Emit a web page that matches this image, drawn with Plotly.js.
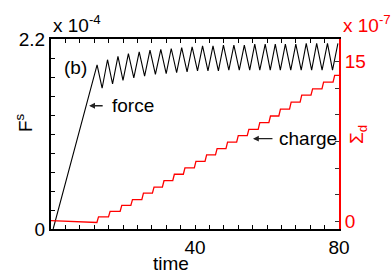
<!DOCTYPE html>
<html>
<head>
<meta charset="utf-8">
<script src="https://cdn.plot.ly/plotly-3.0.1.min.js"></script>
<style>html,body{margin:0;padding:0;background:#fff;}#chart{width:392px;height:273px;}</style>
</head>
<body>
<div id="chart"></div>
<script>
// ---- data (time units; force in 1e-4, charge in 1e-7) ----
const forceStart = [0.6, 0];
const forcePeakTimes = [12.8, 15.7, 18.6, 21.5, 24.5, 27.5, 30.5, 33.4, 36.3, 39.2, 42.1, 45.0,
                        47.9, 50.8, 53.7, 56.6, 59.5, 62.3, 65.1, 68.0, 70.9, 73.8, 76.8, 79.7];
const forcePeaks = [1.90, 1.96, 2.00, 2.03, 2.05, 2.07, 2.08, 2.09, 2.10, 2.11, 2.12, 2.12,
                    2.13, 2.13, 2.13, 2.14, 2.14, 2.14, 2.14, 2.14, 2.15, 2.15, 2.15, 2.15];
const forceMinTimes = [14.2, 17.1, 20.0, 23.0, 26.0, 29.0, 32.0, 34.9, 37.8, 40.7, 43.6, 46.5,
                       49.4, 52.3, 55.2, 58.0, 60.9, 63.7, 66.6, 69.5, 72.4, 75.3, 78.2];
const forceMins = [1.63, 1.68, 1.72, 1.75, 1.77, 1.79, 1.80, 1.81, 1.82, 1.83, 1.83, 1.83,
                   1.84, 1.84, 1.84, 1.84, 1.84, 1.84, 1.84, 1.84, 1.84, 1.84, 1.84];

const chargeStart = [0, 0.07];
const chargeStepTimes = [12.75, 15.97, 19.21, 22.18, 25.23, 28.17, 30.94, 33.82, 36.76, 39.81, 42.78, 45.69,
                         48.60, 51.57, 54.51, 57.55, 60.52, 63.29, 66.26, 69.20, 72.22, 75.27, 78.35];
const chargeLevels = [-0.10, 0.42, 0.95, 1.50, 2.05, 2.65, 3.22, 3.82, 4.43, 5.02, 5.63, 6.24,
                      6.84, 7.44, 8.05, 8.65, 9.27, 9.90, 10.55, 11.20, 11.85, 12.45, 13.08, 13.71];
const chargeEndTime = 80;

const xTickVals = [40, 80];
const xTickText = ['40', '80'];
const yTickVals = [0, 2.2];
const yTickText = ['0', '2.2'];
const y2TickVals = [0, 15];
const y2TickText = ['0', '15'];

// ---- build traces ----
const fx = [forceStart[0]], fy = [forceStart[1]];
for (let i = 0; i < forcePeakTimes.length; i++) {
  fx.push(forcePeakTimes[i]); fy.push(forcePeaks[i]);
  if (i < forceMinTimes.length) { fx.push(forceMinTimes[i]); fy.push(forceMins[i]); }
}
const riseDur = 0.45;
const cx = [chargeStart[0]], cy = [chargeStart[1]];
for (let k = 0; k < chargeStepTimes.length; k++) {
  cx.push(chargeStepTimes[k]); cy.push(chargeLevels[k]);
  cx.push(chargeStepTimes[k] + riseDur); cy.push(chargeLevels[k + 1]);
}
cx.push(chargeEndTime); cy.push(chargeLevels[chargeLevels.length - 1]);

const FONT = 'Liberation Sans, Arial, sans-serif';
const traces = [
  {x: fx, y: fy, type: 'scatter', mode: 'lines', line: {color: '#000', width: 1.1}, yaxis: 'y', hoverinfo: 'skip'},
  {x: cx, y: cy, type: 'scatter', mode: 'lines', line: {color: '#ff0000', width: 1.3}, yaxis: 'y2', hoverinfo: 'skip'}
];

function px2paperX(p) { return (p - 51) / 288; }
function px2paperY(p) { return (229 - p) / 190; }

const layout = {
  width: 392, height: 273,
  margin: {l: 51, r: 53, t: 39, b: 44, pad: 0},
  paper_bgcolor: '#fff', plot_bgcolor: '#fff',
  showlegend: false,
  font: {family: FONT, size: 19, color: '#000'},
  xaxis: {
    range: [0, 80], tickmode: 'array', tickvals: xTickVals, ticktext: xTickText,
    ticks: 'inside', ticklen: 4, tickwidth: 1, tickcolor: '#000',
    minor: {tick0: 0, dtick: 4, ticks: 'inside', ticklen: 4, tickwidth: 1, tickcolor: '#000', showgrid: false},
    showline: true, linecolor: '#000', linewidth: 2, mirror: 'ticks',
    showgrid: false, zeroline: false, tickfont: {size: 19, family: FONT}
  },
  yaxis: {
    range: [0, 2.2], tickmode: 'array', tickvals: yTickVals, ticktext: yTickText,
    ticks: 'inside', ticklen: 4, tickwidth: 1, tickcolor: '#000',
    minor: {tick0: 0, dtick: 0.22, ticks: 'inside', ticklen: 4, tickwidth: 1, tickcolor: '#000', showgrid: false},
    showline: true, linecolor: '#000', linewidth: 2,
    showgrid: false, zeroline: false, tickfont: {size: 19, family: FONT}
  },
  yaxis2: {
    overlaying: 'y', side: 'right',
    range: [-0.714, 17.13], tickmode: 'array', tickvals: y2TickVals, ticktext: y2TickText,
    ticks: 'inside', ticklen: 4, tickwidth: 1, tickcolor: '#333',
    minor: {tick0: 0, dtick: 2.5, ticks: 'inside', ticklen: 4, tickwidth: 1, tickcolor: '#333', showgrid: false},
    showline: true, linecolor: '#ff0000', linewidth: 2,
    showgrid: false, zeroline: false, tickfont: {size: 19, family: FONT, color: '#ff0000'}
  },
  annotations: [
    {text: 'x 10<sup>-4</sup>', xref: 'paper', yref: 'paper', x: px2paperX(51), y: px2paperY(38),
     xanchor: 'left', yanchor: 'bottom', showarrow: false, font: {size: 19, family: FONT}},
    {text: 'x 10<sup>-7</sup>', xref: 'paper', yref: 'paper', x: px2paperX(341), y: px2paperY(38),
     xanchor: 'left', yanchor: 'bottom', showarrow: false, font: {size: 19, family: FONT, color: '#ff0000'}},
    {text: 'F<sup>s</sup>', xref: 'paper', yref: 'paper', x: px2paperX(24), y: px2paperY(123),
     xanchor: 'center', yanchor: 'middle', textangle: -90, showarrow: false, font: {size: 19, family: FONT}},
    {text: 'Σ<sub>d</sub>', xref: 'paper', yref: 'paper', x: px2paperX(358), y: px2paperY(135),
     xanchor: 'center', yanchor: 'middle', textangle: -90, showarrow: false, font: {size: 19, family: FONT, color: '#ff0000'}},
    {text: 'time', xref: 'paper', yref: 'paper', x: px2paperX(171), y: px2paperY(263),
     xanchor: 'center', yanchor: 'middle', showarrow: false, font: {size: 19, family: FONT}},
    {text: '(b)', xref: 'paper', yref: 'paper', x: px2paperX(75), y: px2paperY(67),
     xanchor: 'center', yanchor: 'middle', showarrow: false, font: {size: 19, family: FONT}},
    {text: 'force', xref: 'x', yref: 'y', x: 10.6, y: 1.427, ax: 44, ay: 0, showarrow: true,
     arrowhead: 2, arrowsize: 0.9, arrowwidth: 1.3, arrowcolor: '#222', standoff: 0, startstandoff: 8,
     font: {size: 19, family: FONT}},
    {text: 'charge', xref: 'x', yref: 'y2', x: 56.1, y: 7.77, ax: 55, ay: 0, showarrow: true,
     arrowhead: 2, arrowsize: 0.9, arrowwidth: 1.3, arrowcolor: '#222', standoff: 0, startstandoff: 5,
     font: {size: 19, family: FONT}}
  ]
};

Plotly.newPlot('chart', traces, layout, {staticPlot: true, displayModeBar: false});
</script>
</body>
</html>
